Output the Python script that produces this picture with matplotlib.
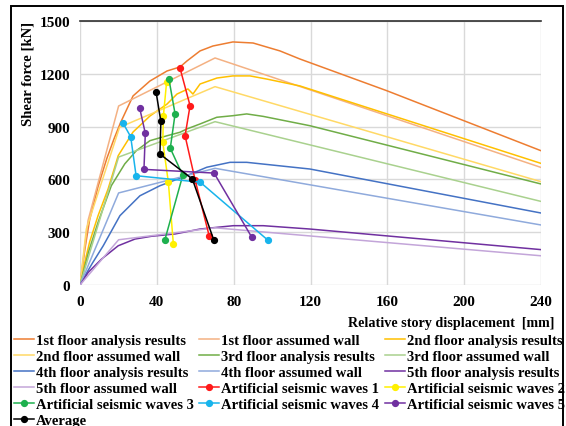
import matplotlib
matplotlib.use("Agg")
import matplotlib.pyplot as plt
from matplotlib.patches import Rectangle

plt.rcParams["font.family"] = ["Liberation Serif", "DejaVu Serif"]
plt.rcParams["font.weight"] = "bold"

# ---- analysis results (relative story displacement [mm], shear force [kN]) ----
f1_ana_x = [0, 2.5, 5.0, 9.4, 14.0, 17.7, 21.0, 27.6, 36.4, 45.3, 52.1, 55.7, 62.5, 69.2, 79.6, 90.1, 104.1, 114.5, 159.7, 240]
f1_ana_y = [0, 200, 370, 560, 720, 830, 920, 1074, 1159, 1216, 1239, 1273, 1330, 1358, 1381, 1375, 1330, 1284, 1104, 763]

f2_ana_x = [0, 2.5, 5.0, 9.4, 14.6, 19.9, 27.6, 36.4, 45.3, 50.5, 56.2, 58.8, 62.5, 71.3, 79.6, 88.5, 97.3, 114.5, 240]
f2_ana_y = [0, 130, 244, 394, 545, 735, 869, 960, 1028, 1085, 1114, 1085, 1142, 1176, 1188, 1188, 1170, 1131, 691]

f3_ana_x = [0, 4.5, 9.4, 16.3, 23.3, 29.3, 36.4, 45.3, 52.1, 55.5, 62.5, 71.2, 79.6, 86.8, 95.4, 119.7, 240]
f3_ana_y = [0, 190, 356, 564, 688, 763, 820, 848, 868, 886, 915, 953, 962, 972, 958, 905, 574]

f4_ana_x = [0, 3.0, 6.5, 12.1, 20.8, 31.2, 41.6, 55.5, 66.0, 78.1, 86.8, 98.9, 119.7, 240]
f4_ana_y = [0, 60, 125, 223, 394, 507, 564, 621, 669, 697, 697, 683, 659, 409]

f5_ana_x = [0, 4.3, 11.3, 19.9, 28.6, 37.3, 49.5, 62.5, 79.8, 95.4, 119.7, 240]
f5_ana_y = [0, 72, 148, 223, 261, 277, 290, 318, 337, 337, 318, 201]

# ---- assumed wall models ----
f1_wall_x = [0, 4.2, 20.1, 70.3, 240]
f1_wall_y = [0, 367, 1017, 1290, 668]
f2_wall_x = [0, 3.3, 20.6, 70.3, 240]
f2_wall_y = [0, 318, 896, 1127, 587]
f3_wall_x = [0, 20.1, 70.3, 240]
f3_wall_y = [0, 727, 928, 475]
f4_wall_x = [0, 20.1, 70.3, 240]
f4_wall_y = [0, 523, 663, 341]
f5_wall_x = [0, 20.1, 70.3, 240]
f5_wall_y = [0, 257, 325, 166]

# ---- artificial seismic waves: floor 1..5 responses ----
wave1_x = [52.1, 57.3, 54.7, 59.9, 67.3]
wave1_y = [1231, 1019, 848, 598, 277]
wave2_x = [45.1, 43.4, 43.1, 46.0, 48.6]
wave2_y = [1155, 959, 811, 584, 233]
wave3_x = [46.3, 49.5, 47.0, 53.5, 44.2]
wave3_y = [1170, 972, 777, 623, 257]
wave4_x = [22.5, 26.4, 29.2, 62.6, 98.0]
wave4_y = [918, 842, 621, 584, 253]
wave5_x = [31.1, 34.0, 33.3, 69.8, 89.5]
wave5_y = [1004, 862, 657, 636, 270]
avg_x = [39.6, 42.1, 41.6, 58.5, 69.6]
avg_y = [1097, 929, 744, 602, 257]

x_ticks = [0, 40, 80, 120, 160, 200, 240]
y_ticks = [0, 300, 600, 900, 1200, 1500]

fig = plt.figure(figsize=(5.66, 4.27), dpi=100)
ax = fig.add_axes([80 / 566, 1 - 286 / 427, (541 - 80) / 566, (286 - 22) / 427])

lw = 1.1
entries = []
def line(x, y, color, label, **kw):
    h, = ax.plot(x, y, color=color, lw=lw, label=label, **kw)
    entries.append(h)

line(f1_ana_x, f1_ana_y, "#ED7D31", "1st floor analysis results")
line(f1_wall_x, f1_wall_y, "#F4B183", "1st floor assumed wall")
line(f2_ana_x, f2_ana_y, "#FFC000", "2nd floor analysis results")
line(f2_wall_x, f2_wall_y, "#FFD966", "2nd floor assumed wall")
line(f3_ana_x, f3_ana_y, "#70AD47", "3rd floor analysis results")
line(f3_wall_x, f3_wall_y, "#A9D18E", "3rd floor assumed wall")
line(f4_ana_x, f4_ana_y, "#4472C4", "4th floor analysis results")
line(f4_wall_x, f4_wall_y, "#8FAADC", "4th floor assumed wall")
line(f5_ana_x, f5_ana_y, "#7030A0", "5th floor analysis results")
line(f5_wall_x, f5_wall_y, "#C3A5D9", "5th floor assumed wall")

mk = dict(marker="o", markersize=4.2)
line(wave1_x, wave1_y, "#FF1A1A", "Artificial seismic waves 1", **mk)
line(wave2_x, wave2_y, "#FFF000", "Artificial seismic waves 2", **mk)
line(wave3_x, wave3_y, "#1EB04E", "Artificial seismic waves 3", **mk)
line(wave4_x, wave4_y, "#18B4EC", "Artificial seismic waves 4", **mk)
line(wave5_x, wave5_y, "#7030A0", "Artificial seismic waves 5", **mk)
line(avg_x, avg_y, "#000000", "Average", **mk)

ax.set_xlim(0, 240)
ax.set_ylim(0, 1500)
ax.set_xticks(x_ticks)
ax.set_yticks(y_ticks)
ax.tick_params(length=0, labelsize=11, pad=7)
for t in ax.get_xticklabels() + ax.get_yticklabels():
    t.set_fontweight("bold")
ax.grid(True, color="#D9D9D9", lw=1.0)
ax.set_axisbelow(True)
for s in ["left", "bottom", "right"]:
    ax.spines[s].set_visible(False)
ax.spines["top"].set_color("#303030")
ax.spines["top"].set_linewidth(1.2)

ax.set_ylabel("Shear force [kN]", fontsize=10.6, fontweight="bold", loc="top", labelpad=4)
ax.set_xlabel("Relative story displacement  [mm]", fontsize=10.2, fontweight="bold")
ax.xaxis.set_label_coords((554 - 80) / 461, -(324 - 286) / 264)
ax.xaxis.label.set_horizontalalignment("right")
ax.xaxis.label.set_verticalalignment("center")

# legend entries in row-major order across three columns
order = [entries[i::3] for i in range(3)]
handles = order[0] + order[1] + order[2]
fig.legend(handles=handles, labels=[h.get_label() for h in handles], ncol=3,
           loc="upper left", bbox_to_anchor=(14 / 566, 1 - 334.5 / 427),
           frameon=False, prop=dict(size=10.5, weight="bold"),
           handlelength=1.37, handletextpad=0.12, columnspacing=0.4,
           labelspacing=0.2, borderaxespad=0, borderpad=0, numpoints=1)

fig.add_artist(Rectangle((11 / 566, -0.05), (563 - 11) / 566, 1 - 7 / 427 + 0.05,
                         transform=fig.transFigure, fill=False, lw=1.4, ec="black"))

fig.savefig("out.png", dpi=100)
